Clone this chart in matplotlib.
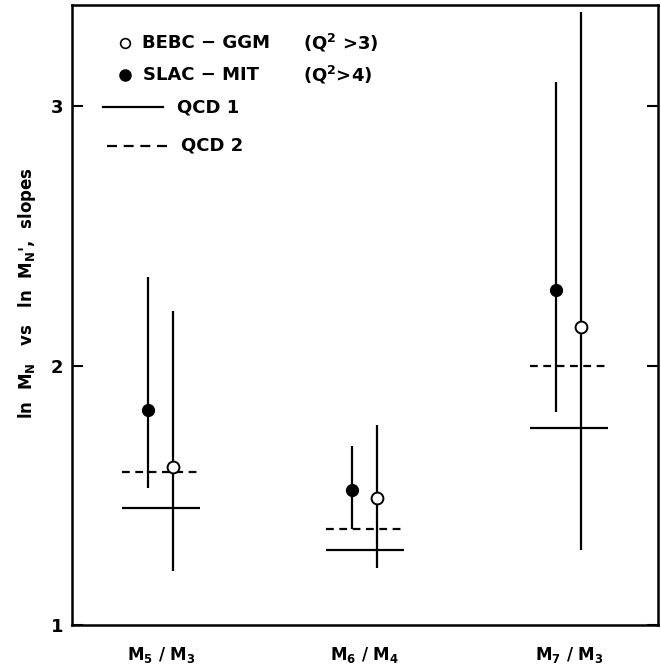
import matplotlib
matplotlib.use("Agg")
import matplotlib.pyplot as plt

plt.rcParams["font.family"] = ["DejaVu Sans"]
plt.rcParams["font.weight"] = "bold"
plt.rcParams["mathtext.fontset"] = "custom"
plt.rcParams["mathtext.rm"] = "DejaVu Sans:bold"
plt.rcParams["mathtext.it"] = "DejaVu Sans:bold"
plt.rcParams["mathtext.bf"] = "DejaVu Sans:bold"
plt.rcParams["mathtext.default"] = "bf"

# moment ratios and measured slopes
ratios = ["M$_5$ / M$_3$", "M$_6$ / M$_4$", "M$_7$ / M$_3$"]
pos = [1, 2, 3]

slac_val = [1.83, 1.52, 2.29]
slac_hi = [2.34, 1.69, 3.09]
slac_lo = [1.53, 1.37, 1.82]

bebc_val = [1.61, 1.49, 2.15]
bebc_hi = [2.21, 1.77, 3.36]
bebc_lo = [1.21, 1.22, 1.29]

qcd1 = [1.45, 1.29, 1.76]
qcd2 = [1.59, 1.37, 2.00]

fig = plt.figure(figsize=(6.61, 6.71), dpi=100)
ax = fig.add_axes([0.1085, 0.068, 0.8865, 0.925])

# theory predictions
half = 0.19
ax.hlines(qcd1, [p - half for p in pos], [p + half for p in pos],
          colors="black", linewidth=1.6)
ax.hlines(qcd2, [p - half for p in pos], [p + half for p in pos],
          colors="black", linewidth=1.6, linestyles=(0, (3.5, 2.5)))

# SLAC-MIT points (filled)
x_slac = [p - 0.065 for p in pos]
err_slac = [[v - l for v, l in zip(slac_val, slac_lo)],
            [h - v for v, h in zip(slac_val, slac_hi)]]
ax.errorbar(x_slac, slac_val, yerr=err_slac, fmt="o", color="black",
            markersize=8.5, elinewidth=1.6, capsize=0, zorder=3)

# BEBC-GGM points (open)
x_bebc = [p + 0.06 for p in pos]
err_bebc = [[v - l for v, l in zip(bebc_val, bebc_lo)],
            [h - v for v, h in zip(bebc_val, bebc_hi)]]
ax.errorbar(x_bebc, bebc_val, yerr=err_bebc, fmt="o", color="black",
            markerfacecolor="white", markeredgewidth=1.4,
            markersize=8.5, elinewidth=1.6, capsize=0, zorder=3)

ax.set_xlim(0.562, 3.435)
ax.set_ylim(1.007, 3.389)

ax.set_xticks(pos)
ax.set_xticklabels(ratios, fontsize=12, fontweight="bold")
ax.tick_params(axis="x", length=0, pad=14)

ax.set_yticks([1, 2, 3])
ax.set_yticklabels(["1", "2", "3"], fontsize=13, fontweight="bold")
ax.tick_params(axis="y", direction="in", length=8, width=1.5, pad=6,
               right=True)

for s in ax.spines.values():
    s.set_linewidth(1.8)

ax.set_ylabel("ln  M$_N$   vs   ln  M$_N$',  slopes", fontsize=12,
              fontweight="bold")
ax.yaxis.set_label_coords(-0.057, 0.535)

# key in the upper left corner
tr = ax.transAxes
ax.plot([0.091], [0.938], "o", color="black", markerfacecolor="white",
        markeredgewidth=1.2, markersize=7, transform=tr, clip_on=False)
ax.text(0.120, 0.938, "BEBC − GGM", fontsize=13, fontweight="bold",
        va="center", ha="left", transform=tr)
ax.text(0.394, 0.938, "(Q$^2$ >3)", fontsize=13, fontweight="bold",
        va="center", ha="left", transform=tr)

ax.plot([0.091], [0.887], "o", color="black", markersize=8,
        transform=tr, clip_on=False)
ax.text(0.122, 0.887, "SLAC − MIT", fontsize=13, fontweight="bold",
        va="center", ha="left", transform=tr)
ax.text(0.394, 0.887, "(Q$^2$>4)", fontsize=13, fontweight="bold",
        va="center", ha="left", transform=tr)

ax.plot([0.053, 0.156], [0.835, 0.835], color="black", linewidth=1.6,
        transform=tr)
ax.text(0.180, 0.835, "QCD 1", fontsize=13, fontweight="bold",
        va="center", ha="left", transform=tr)

ax.plot([0.060, 0.171], [0.773, 0.773], color="black", linewidth=1.6,
        linestyle=(0, (4.5, 3)), transform=tr)
ax.text(0.186, 0.773, "QCD 2", fontsize=13, fontweight="bold",
        va="center", ha="left", transform=tr)

fig.savefig("out.png", dpi=100)
